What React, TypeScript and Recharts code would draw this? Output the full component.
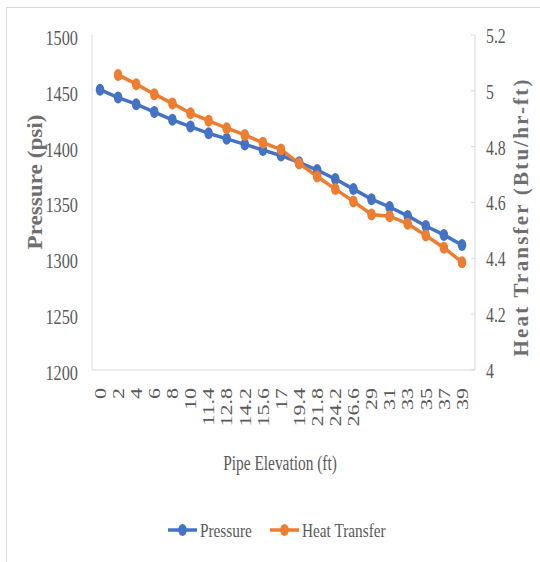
import { ComposedChart, Line, XAxis, YAxis } from "recharts";

const elevations = ["0", "2", "4", "6", "8", "10", "11.4", "12.8", "14.2", "15.6", "17", "19.4", "21.8", "24.2", "26.6", "29", "31", "33", "35", "37", "39"];
const pressure = [1451, 1444, 1438, 1431, 1424, 1418, 1412, 1407, 1402, 1397, 1392, 1386, 1379, 1371, 1362, 1353, 1346, 1338, 1329, 1321, 1312];
const heatTransfer = [null, 5.057, 5.024, 4.988, 4.955, 4.92, 4.893, 4.866, 4.842, 4.814, 4.79, 4.74, 4.693, 4.648, 4.604, 4.557, 4.551, 4.524, 4.482, 4.438, 4.386];
const pressureTicks = [1200, 1250, 1300, 1350, 1400, 1450, 1500];
const heatTicks = [4, 4.2, 4.4, 4.6, 4.8, 5, 5.2];

const BLUE = "#4472C4";
const ORANGE = "#ED7D31";
const TEXT = "#595959";
const TITLE = "#6f6f6f";
const AXIS = "#d9d9d9";
const FONT = "'Liberation Serif', 'Times New Roman', serif";

const W = 533;
const H = 554;

const data = elevations.map((elev, i) => ({
  elev,
  pressure: pressure[i],
  heat: heatTransfer[i],
}));

function LeftTick({ x, y, payload }: any) {
  return (
    <g transform={`translate(${x},${y + 2}) scale(0.74,1)`}>
      <text textAnchor="end" dy="0.36em" fontSize={22} fill={TEXT} fontFamily={FONT}>
        {payload.value}
      </text>
    </g>
  );
}

function RightTick({ x, y, payload }: any) {
  return (
    <g>
      <line x1={x - 15} x2={x - 11} y1={y} y2={y} stroke={AXIS} strokeWidth={1} />
      <g transform={`translate(${x},${y}) scale(0.72,1)`}>
        <text textAnchor="start" dy="0.36em" fontSize={22} fill={TEXT} fontFamily={FONT}>
          {String(payload.value)}
        </text>
      </g>
    </g>
  );
}

// category labels run bottom-to-top, hanging below the axis
function BottomTick({ x, y, payload }: any) {
  return (
    <g transform={`translate(${x},${y}) scale(0.72,1) rotate(-90)`}>
      <text textAnchor="end" dy="0.36em" fontSize={22} fill={TEXT} fontFamily={FONT}>
        {payload.value}
      </text>
    </g>
  );
}

const makeDot = (color: string) => (props: any) => {
  const { cx, cy, index } = props;
  if (cx == null || cy == null || props.value == null) return <g key={`d-${index}`} />;
  return <ellipse key={`d-${index}`} cx={cx} cy={cy} rx={4.3} ry={6} fill={color} />;
};

function LegendItem({ x, color, label }: { x: number; color: string; label: string }) {
  return (
    <g>
      <line x1={x} x2={x + 29} y1={522} y2={522} stroke={color} strokeWidth={3.5} />
      <ellipse cx={x + 14.5} cy={522} rx={4.3} ry={6} fill={color} />
      <g transform={`translate(${x + 32},529) scale(0.85,1)`}>
        <text fontSize={18} fill={TEXT} fontFamily={FONT}>
          {label}
        </text>
      </g>
    </g>
  );
}

export default function App() {
  return (
    <div
      style={{
        position: "absolute",
        left: 6,
        top: 7,
        width: W,
        height: H,
        borderTop: `1px solid ${AXIS}`,
        borderLeft: `1px solid ${AXIS}`,
        background: "#fff",
      }}
    >
      <ComposedChart width={W} height={H} data={data} margin={{ top: 27, right: 0, left: 0, bottom: 0 }}>
        <XAxis
          dataKey="elev"
          height={192}
          interval={0}
          padding={{ left: 8, right: 13 }}
          tickSize={0}
          tickMargin={18}
          tickLine={false}
          axisLine={{ stroke: AXIS }}
          tick={<BottomTick />}
          label={{
            content: () => (
              <g transform="translate(273,462) scale(0.77,1)">
                <text textAnchor="middle" fontSize={20} fill={TEXT} fontFamily={FONT}>
                  Pipe Elevation (ft)
                </text>
              </g>
            ),
          }}
        />
        <YAxis
          yAxisId="p"
          orientation="left"
          width={85}
          domain={[1200, 1500]}
          ticks={pressureTicks}
          interval={0}
          tickSize={0}
          tickMargin={14}
          tickLine={false}
          axisLine={{ stroke: AXIS }}
          tick={<LeftTick />}
          label={{
            content: () => (
              <text
                transform="translate(35,174) rotate(-90)"
                textAnchor="middle"
                fontSize={21}
                fontWeight="bold"
                fill={TITLE}
                fontFamily={FONT}
                textLength={135}
                lengthAdjust="spacingAndGlyphs"
              >
                Pressure (psi)
              </text>
            ),
          }}
        />
        <YAxis
          yAxisId="h"
          orientation="right"
          width={65}
          domain={[4, 5.2]}
          ticks={heatTicks}
          interval={0}
          tickSize={0}
          tickMargin={11}
          tickLine={false}
          axisLine={{ stroke: AXIS }}
          tick={<RightTick />}
          label={{
            content: () => (
              <text
                transform="translate(521,210) rotate(-90)"
                textAnchor="middle"
                fontSize={21}
                fontWeight="bold"
                fill={TITLE}
                fontFamily={FONT}
                textLength={277}
                lengthAdjust="spacing"
              >
                Heat Transfer (Btu/hr-ft)
              </text>
            ),
          }}
        />
        <Line
          yAxisId="p"
          dataKey="pressure"
          type="linear"
          stroke={BLUE}
          strokeWidth={3.5}
          dot={makeDot(BLUE)}
          activeDot={false}
          isAnimationActive={false}
        />
        <Line
          yAxisId="h"
          dataKey="heat"
          type="linear"
          stroke={ORANGE}
          strokeWidth={3.5}
          dot={makeDot(ORANGE)}
          activeDot={false}
          isAnimationActive={false}
        />
      </ComposedChart>
      <svg width={W} height={H} style={{ position: "absolute", left: 0, top: 0, pointerEvents: "none" }}>
        <LegendItem x={161} color={BLUE} label="Pressure" />
        <LegendItem x={263} color={ORANGE} label="Heat Transfer" />
      </svg>
    </div>
  );
}
